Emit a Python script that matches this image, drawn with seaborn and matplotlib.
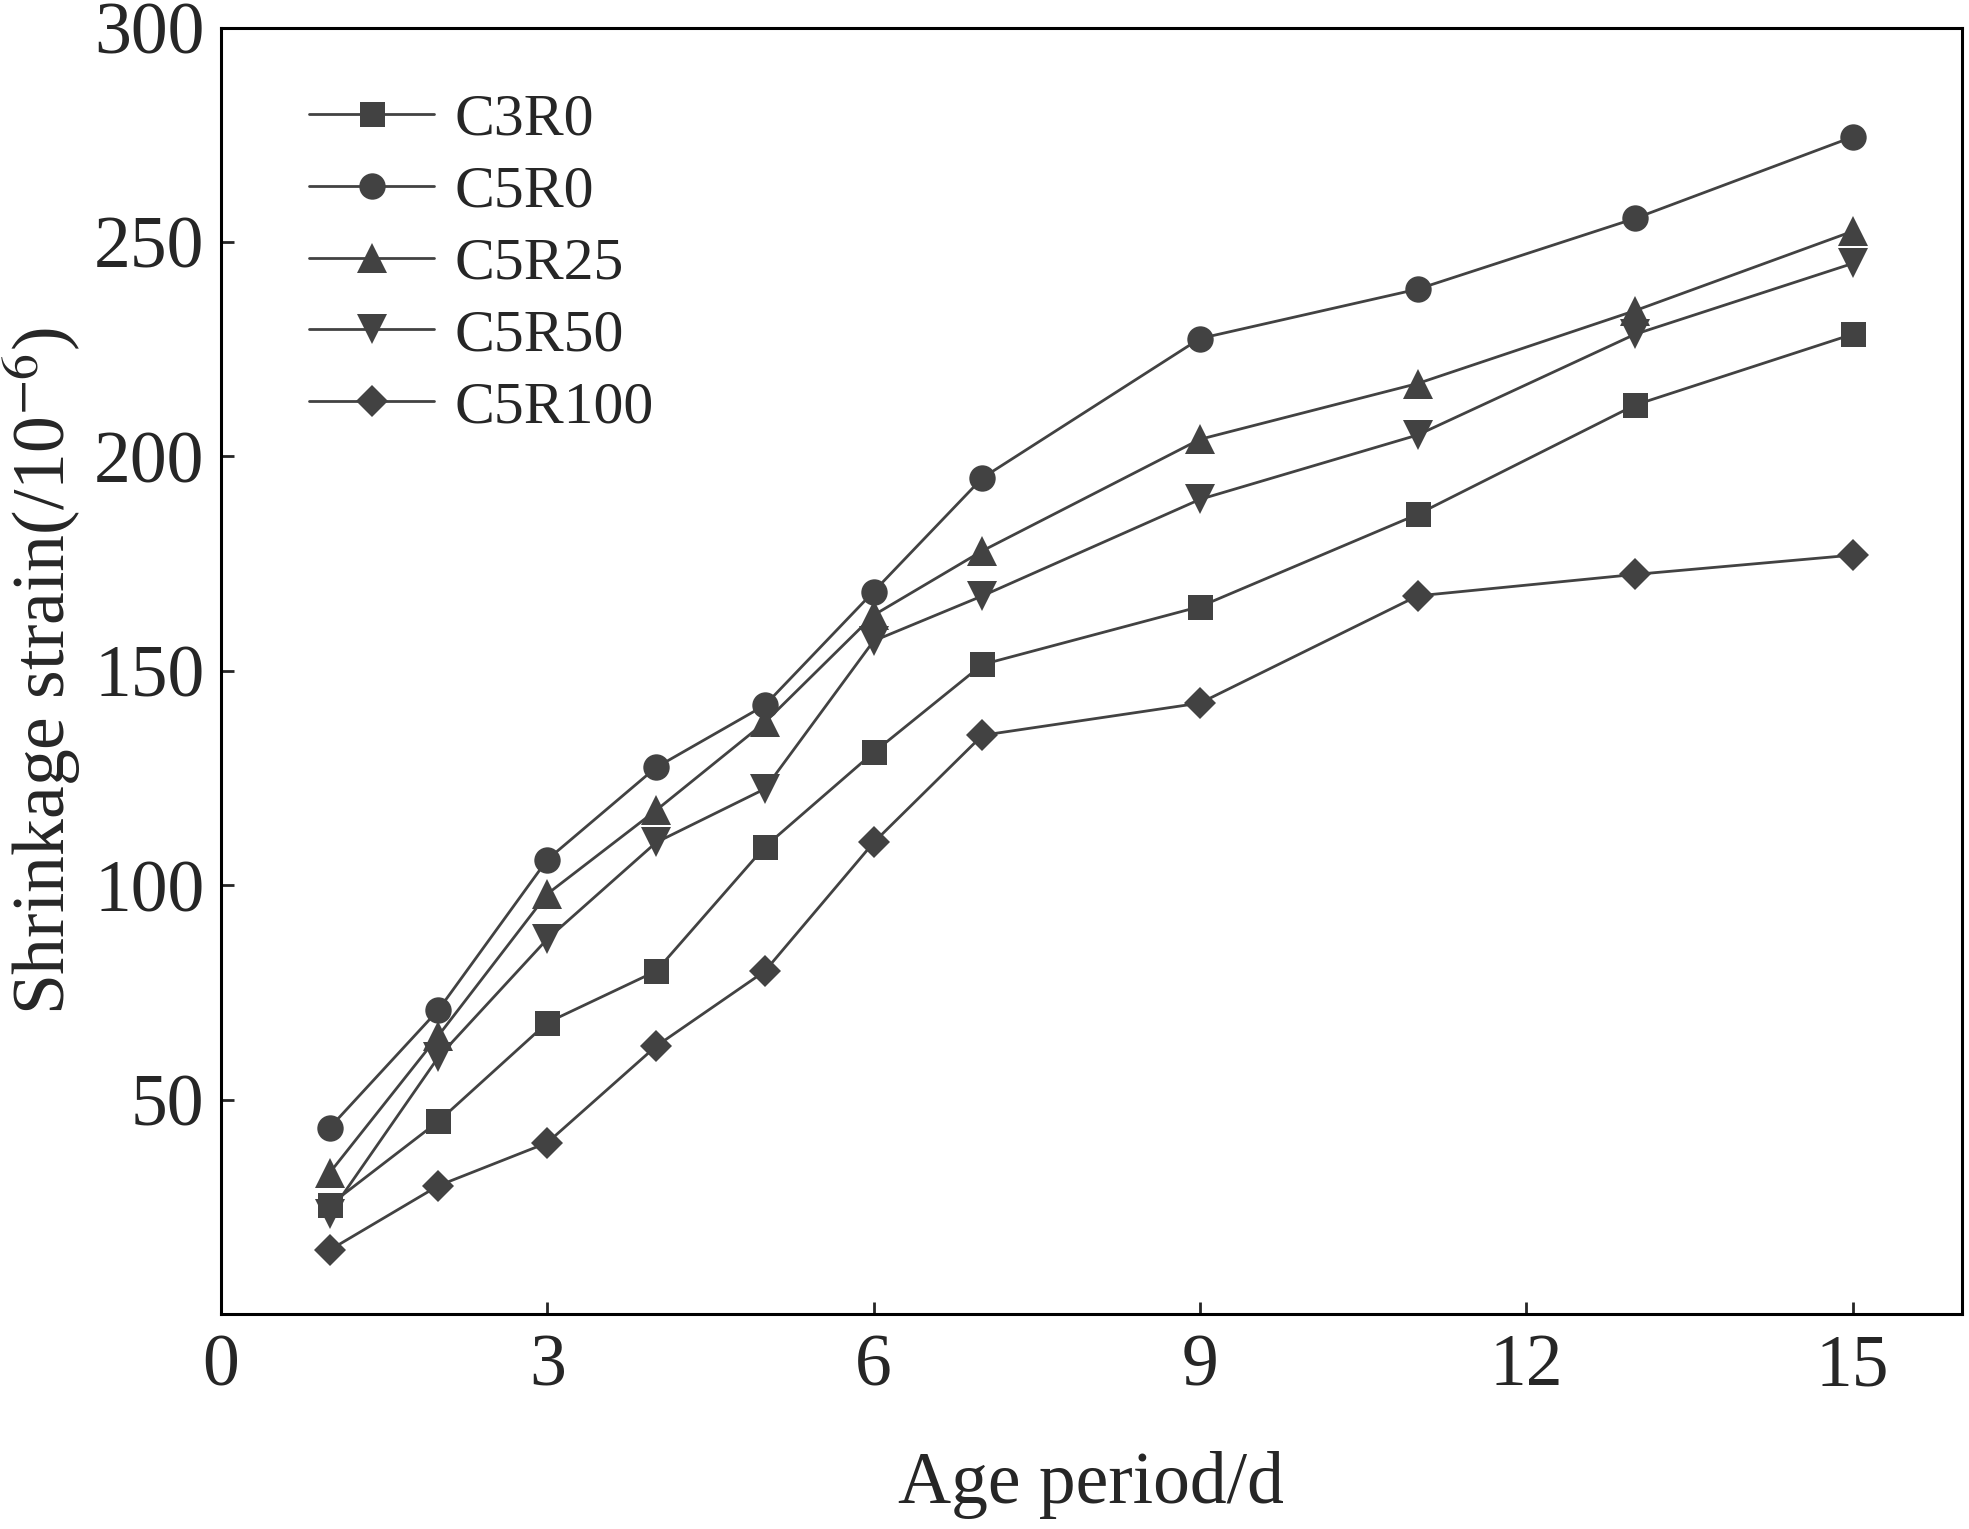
import matplotlib
matplotlib.use("Agg")
import matplotlib.pyplot as plt
import seaborn as sns
import pandas as pd

days = [1, 2, 3, 4, 5, 6, 7, 9, 11, 13, 15]
C3R0 = [25.5, 45, 68, 80, 109, 131, 151.5, 165, 186.5, 212, 228.5]
C5R0 = [43.5, 71, 106, 127.5, 142, 168.5, 195, 227.5, 239, 255.5, 274.5]
C5R25 = [33, 65, 98, 117.5, 138, 163, 178, 204, 217, 234, 252.5]
C5R50 = [23.5, 60, 87.5, 110, 122.5, 157, 167.5, 190, 205, 228.5, 245]
C5R100 = [15, 30, 40, 62.5, 80, 110, 135, 142.5, 167.5, 172.5, 177]
series_names = ["C3R0", "C5R0", "C5R25", "C5R50", "C5R100"]
series_values = [C3R0, C5R0, C5R25, C5R50, C5R100]
xticks = [0, 3, 6, 9, 12, 15]
yticks = [50, 100, 150, 200, 250, 300]

rows = []
for name, vals in zip(series_names, series_values):
    for d, v in zip(days, vals):
        rows.append({"Age": d, "Strain": v, "Series": name})
df = pd.DataFrame(rows)

sns.set_style("ticks")
plt.rcParams["font.family"] = ["Liberation Serif", "DejaVu Serif"]
plt.rcParams["mathtext.fontset"] = "stix"

color = "#424242"
markers = {"C3R0": "s", "C5R0": "o", "C5R25": "^", "C5R50": "v", "C5R100": "D"}
msizes = {"C3R0": 18, "C5R0": 19, "C5R25": 21, "C5R50": 21, "C5R100": 16.8}

fig = plt.figure(figsize=(19.69, 15.29), dpi=100)
ax = fig.add_axes([0.1122, 0.1404, 0.884, 0.8416])

sns.lineplot(data=df, x="Age", y="Strain", style="Series", style_order=series_names,
             markers=markers, dashes=False, color=color, linewidth=2.0,
             markeredgewidth=0, ax=ax, legend=True)

for line, name in zip(ax.lines, series_names):
    line.set_markersize(msizes[name])
    line.set_markerfacecolor(color)
    line.set_color(color)

handles, labels = ax.get_legend_handles_labels()
for h, l in zip(handles, labels):
    if l in msizes:
        h.set_markersize(msizes[l])
        h.set_color(color)
        h.set_markerfacecolor(color)
        h.set_markeredgewidth(0)
        h.set_linewidth(2.0)
ax.legend(handles, labels, loc="upper left", frameon=False, fontsize=43,
          handlelength=2.1, labelspacing=0.285, handletextpad=0.33,
          bbox_to_anchor=(0.03, 0.977), borderaxespad=0.2)

ax.set_xlim(0, 16)
ax.set_ylim(0, 300)
ax.set_xticks(xticks)
ax.set_yticks(yticks)
ax.tick_params(axis="both", direction="in", length=9, width=2, labelsize=53,
               top=False, right=False)
ax.tick_params(axis="x", pad=14)
ax.tick_params(axis="y", pad=12)
for sp in ax.spines.values():
    sp.set_linewidth(2.2)
    sp.set_color("black")
    sp.set_visible(True)

ax.set_xlabel("Age period/d", fontsize=53, labelpad=36)
ax.set_ylabel("Shrinkage strain(/10$^{-6}$)", fontsize=53, labelpad=8)

fig.savefig("out.png", dpi=100)
